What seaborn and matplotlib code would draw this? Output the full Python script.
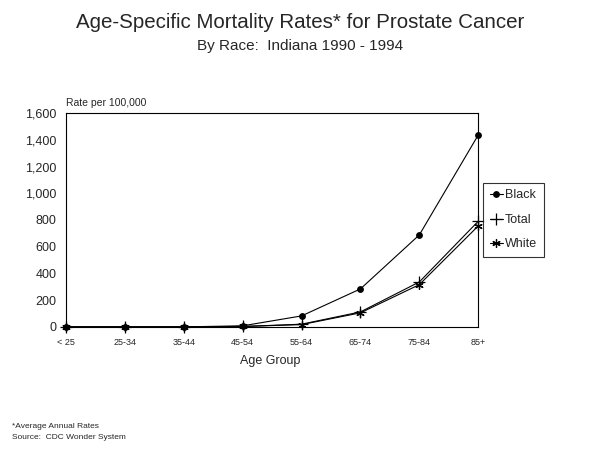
import pandas as pd
import seaborn as sns
import matplotlib.pyplot as plt

age_groups = ['< 25', '25-34', '35-44', '45-54', '55-64', '65-74', '75-84', '85+']
black = [0, 0, 0, 8, 82, 284, 688, 1435]
total = [0, 0, 0, 3, 20, 112, 336, 790]
white = [0, 0, 0, 3, 17, 105, 316, 755]
y_ticks = [0, 200, 400, 600, 800, 1000, 1200, 1400, 1600]

df = pd.DataFrame({
    'age': age_groups * 3,
    'rate': black + total + white,
    'race': ['Black'] * 8 + ['Total'] * 8 + ['White'] * 8,
})

sns.set_style('white')
plt.rcParams['font.family'] = ['Liberation Sans', 'DejaVu Sans']

fig = plt.figure(figsize=(6, 4.54), dpi=100)
ax = fig.add_axes([0.11, 0.28, 0.687, 0.471])

markers = {'Black': 'o', 'Total': '+', 'White': (6, 2, 0)}
sizes = {'Black': 4, 'Total': 9, 'White': 6}
for race in ['Black', 'Total', 'White']:
    sub = df[df['race'] == race]
    sns.lineplot(data=sub, x='age', y='rate', ax=ax, color='black', lw=0.8,
                 marker=markers[race], markersize=sizes[race], mew=0.9,
                 mec='black', mfc='black', label=race, sort=False,
                 clip_on=False)

ax.set_xlim(0, 7)
ax.set_ylim(0, 1600)
ax.set_yticks(y_ticks)
ax.set_yticklabels([f'{v:,}' for v in y_ticks], fontsize=9)
ax.set_xticks(range(len(age_groups)))
ax.set_xticklabels(age_groups, fontsize=6.5)
ax.tick_params(axis='both', direction='in', length=4, width=0.8, color='black')
ax.tick_params(axis='x', pad=8)
ax.tick_params(axis='y', pad=7)
for s in ax.spines.values():
    s.set_color('black')
    s.set_linewidth(0.8)
ax.set_xlabel('')
ax.set_ylabel('')

leg = ax.legend(loc='center left', bbox_to_anchor=(1.012, 0.5), frameon=True,
                fancybox=False, edgecolor='black', fontsize=9,
                handlelength=1.0, handletextpad=0.2, borderpad=0.55,
                labelspacing=1.0, borderaxespad=0)
leg.get_frame().set_linewidth(0.8)

fig.text(0.5, 0.95, 'Age-Specific Mortality Rates* for Prostate Cancer',
         ha='center', va='center', fontsize=14.8)
fig.text(0.5, 0.898, 'By Race:  Indiana 1990 - 1994',
         ha='center', va='center', fontsize=11)
fig.text(0.11, 0.773, 'Rate per 100,000', ha='left', va='center', fontsize=7.5)
fig.text(0.45, 0.205, 'Age Group', ha='center', va='center', fontsize=9)
fig.text(0.02, 0.06, '*Average Annual Rates', ha='left', va='center', fontsize=6)
fig.text(0.02, 0.037, 'Source:  CDC Wonder System', ha='left', va='center', fontsize=6)

fig.savefig('out.png', dpi=100)
